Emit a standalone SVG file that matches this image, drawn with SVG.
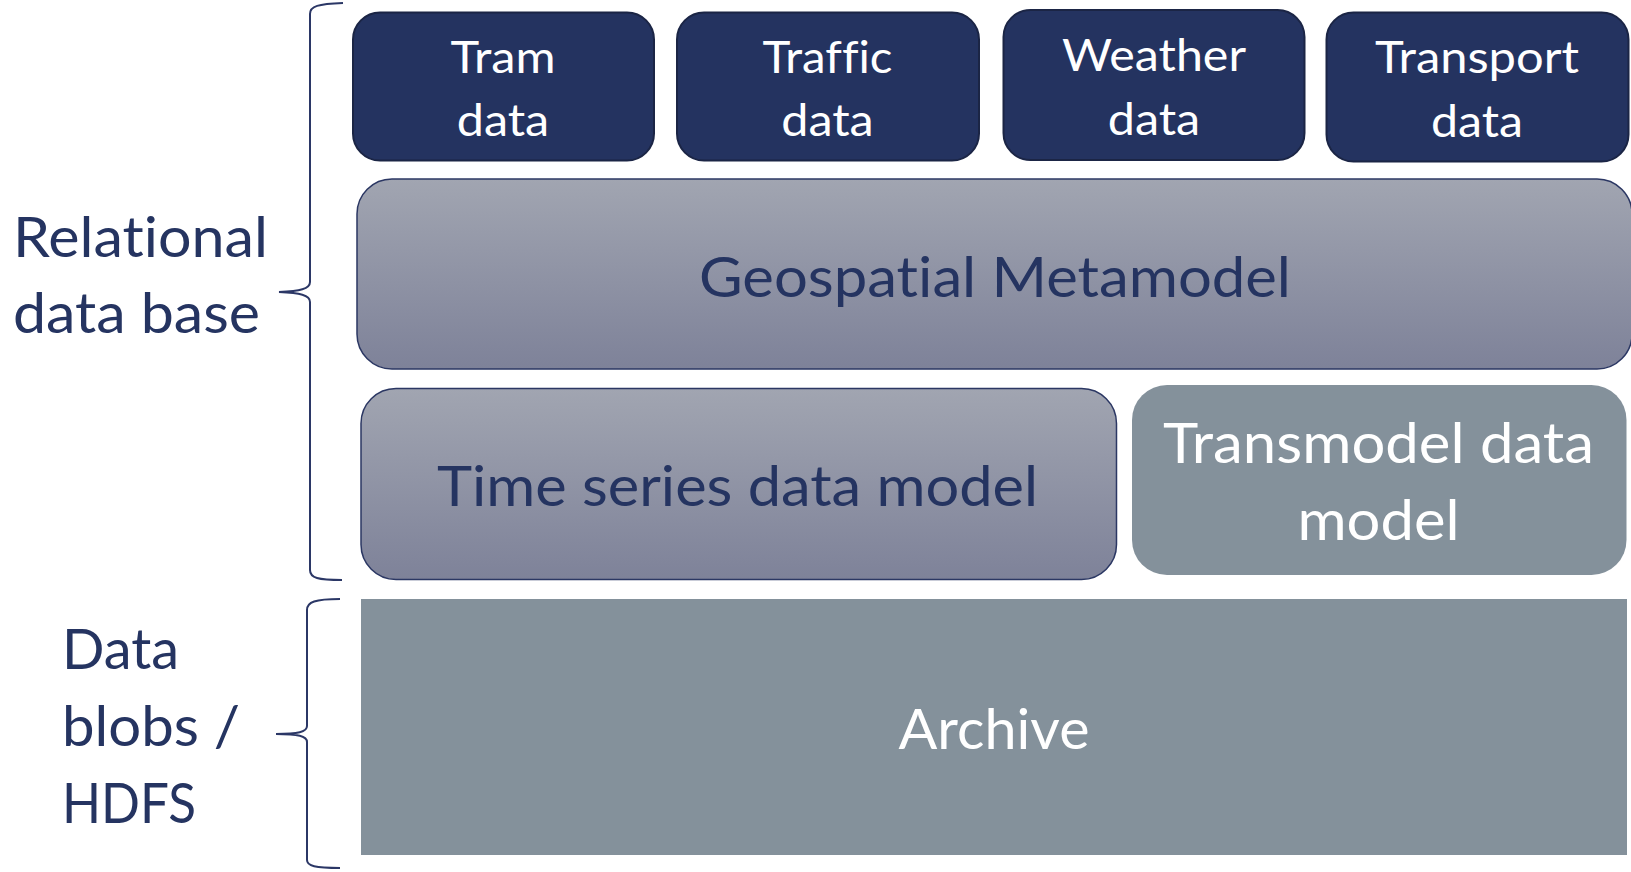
<svg xmlns="http://www.w3.org/2000/svg" width="1631" height="872" viewBox="0 0 1631 872">
<style>
text{font-variant-ligatures:none}
.top{fill:#243360;stroke:#1b2545;stroke-width:2}
.grad{fill:url(#g);stroke:#2b3763;stroke-width:1.5}
.flat{fill:#84919b}
.wt{fill:#ffffff;font-family:Lato,"Open Sans",sans-serif;text-anchor:middle}
.nt{fill:#253461;font-family:Lato,"Open Sans",sans-serif;text-anchor:middle}
.sm{font-size:45px}
.big{font-size:57px}
.lab{fill:#253461;font-family:Lato,"Open Sans",sans-serif;font-size:57px}
.brace{fill:none;stroke:#2b3766;stroke-width:2}
</style>
<defs>
<linearGradient id="g" x1="0" y1="0" x2="0" y2="1">
<stop offset="0" stop-color="#a1a5b1"/>
<stop offset="1" stop-color="#7e8299"/>
</linearGradient>
</defs>
<rect width="1631" height="872" fill="#ffffff"/>
<g id="label-relational">
<text class="lab" x="13" y="257" textLength="255" lengthAdjust="spacingAndGlyphs">Relational</text>
<text class="lab" x="13" y="333" textLength="247" lengthAdjust="spacingAndGlyphs">data base</text>
</g>
<g id="label-blobs">
<text class="lab" x="62" y="669" textLength="117" lengthAdjust="spacingAndGlyphs">Data</text>
<text class="lab" x="62" y="746" textLength="178" lengthAdjust="spacingAndGlyphs">blobs /</text>
<text class="lab" x="62" y="823" textLength="134" lengthAdjust="spacingAndGlyphs">HDFS</text>
</g>
<g id="connectors">
<path class="brace" d="M343,3 C318,4 310,6 310,14 L310,282 C310,289 300,291 279,292 C300,293 310,295 310,302 L310,570 C310,578 318,580 342,580"/>
<path class="brace" d="M340,599 C315,599 307,602 307,610 L307,726 C307,732 298,734 276,734 C298,734 307,736 307,742 L307,860 C307,866 315,868 340,868"/>
</g>
<g id="tram">
<rect class="top" x="353" y="12.5" width="301" height="148" rx="27"/>
<text class="wt sm" x="503" y="72.5" textLength="105" lengthAdjust="spacingAndGlyphs">Tram</text>
<text class="wt sm" x="503" y="136" textLength="92.5" lengthAdjust="spacingAndGlyphs">data</text>
</g>
<g id="traffic">
<rect class="top" x="677" y="12.5" width="302" height="148" rx="27"/>
<text class="wt sm" x="827.5" y="72.5" textLength="130" lengthAdjust="spacingAndGlyphs">Traffic</text>
<text class="wt sm" x="827.5" y="136" textLength="92.5" lengthAdjust="spacingAndGlyphs">data</text>
</g>
<g id="weather">
<rect class="top" x="1003.5" y="10" width="301" height="150" rx="27"/>
<text class="wt sm" x="1154" y="71" textLength="184" lengthAdjust="spacingAndGlyphs">Weather</text>
<text class="wt sm" x="1154" y="135" textLength="92.5" lengthAdjust="spacingAndGlyphs">data</text>
</g>
<g id="transport">
<rect class="top" x="1326.5" y="12.5" width="302" height="149" rx="27"/>
<text class="wt sm" x="1477" y="73" textLength="204" lengthAdjust="spacingAndGlyphs">Transport</text>
<text class="wt sm" x="1477" y="136.5" textLength="92" lengthAdjust="spacingAndGlyphs">data</text>
</g>
<g id="geospatial">
<rect class="grad" x="357" y="179" width="1275" height="190" rx="35"/>
<text class="nt big" x="995" y="296.5" textLength="592" lengthAdjust="spacingAndGlyphs">Geospatial Metamodel</text>
</g>
<g id="timeseries">
<rect class="grad" x="361" y="388.5" width="755.5" height="191" rx="35"/>
<text class="nt big" x="737.5" y="506" textLength="601" lengthAdjust="spacingAndGlyphs">Time series data model</text>
</g>
<g id="transmodel">
<rect class="flat" x="1132" y="385" width="494.5" height="190" rx="35"/>
<text class="wt big" x="1378.5" y="463" textLength="431" lengthAdjust="spacingAndGlyphs">Transmodel data</text>
<text class="wt big" x="1378.5" y="540" textLength="162" lengthAdjust="spacingAndGlyphs">model</text>
</g>
<g id="archive">
<rect class="flat" x="361" y="599" width="1266" height="256"/>
<text class="wt big" x="994" y="749" textLength="191" lengthAdjust="spacingAndGlyphs">Archive</text>
</g>
</svg>
